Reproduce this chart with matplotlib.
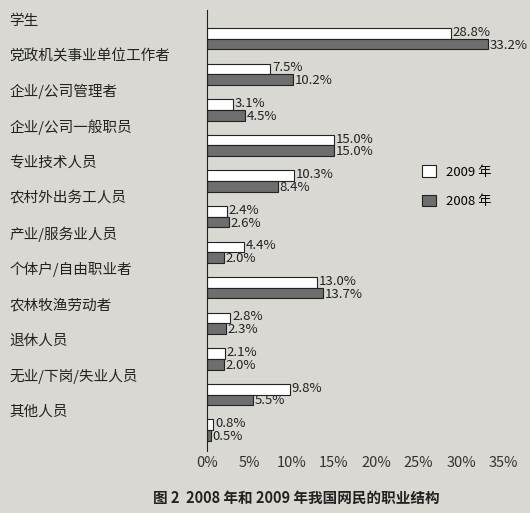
import matplotlib
matplotlib.use("Agg")
import matplotlib.pyplot as plt
import numpy as np

plt.rcParams['font.family'] = ['Noto Sans CJK SC', 'DejaVu Sans']

categories = ["学生", "党政机关事业单位工作者", "企业/公司管理者", "企业/公司一般职员", "专业技术人员",
              "农村外出务工人员", "产业/服务业人员", "个体户/自由职业者", "农林牧渔劳动者", "退休人员",
              "无业/下岗/失业人员", "其他人员"]
v2009 = [28.8, 7.5, 3.1, 15.0, 10.3, 2.4, 4.4, 13.0, 2.8, 2.1, 9.8, 0.8]
v2008 = [33.2, 10.2, 4.5, 15.0, 8.4, 2.6, 2.0, 13.7, 2.3, 2.0, 5.5, 0.5]
xticks = [0, 5, 10, 15, 20, 25, 30, 35]

bg = "#d9d8d3"
fig = plt.figure(figsize=(5.30, 5.13), dpi=100, facecolor=bg)
ax = fig.add_axes([0.39, 0.12, 0.56, 0.86], facecolor=bg)

n = len(categories)
y = np.arange(n)
h = 0.3
b1 = ax.barh(y - h/2, v2009, height=h, color="white", edgecolor="#222222", lw=0.8, label="2009 年")
b2 = ax.barh(y + h/2, v2008, height=h, color="#6e6e6e", edgecolor="#222222", lw=0.8, label="2008 年")
for r, v in zip(b1, v2009):
    ax.text(v + 0.2, r.get_y() + r.get_height()/2 - 0.03, f"{v:.1f}%", va="center", fontsize=9.5, color="#222")
for r, v in zip(b2, v2008):
    ax.text(v + 0.2, r.get_y() + r.get_height()/2 + 0.03, f"{v:.1f}%", va="center", fontsize=9.5, color="#222")

ax.set_xlim(0, 35)
ax.set_ylim(n - 0.4, -0.8)
ax.set_xticks(xticks)
ax.set_xticklabels([f"{t}%" for t in xticks], fontsize=10.5, color="#333")
ax.set_yticks(y - 0.55)
ax.set_yticklabels(categories, fontsize=10.5, color="#222", ha="left")
ax.tick_params(axis="y", length=0, pad=142)
ax.tick_params(axis="x", length=0)
for s in ["top", "right", "bottom"]:
    ax.spines[s].set_visible(False)
ax.spines["left"].set_color("#222")
ax.legend(loc="center right", bbox_to_anchor=(1.0, 0.6), frameon=False, fontsize=9.5,
          handlelength=1.0, handleheight=1.0, labelspacing=1.2)
fig.text(0.56, 0.02, "图 2  2008 年和 2009 年我国网民的职业结构", ha="center", fontsize=10.5,
         fontweight="bold", color="#222")
fig.savefig("out.png", dpi=100, facecolor=bg)
